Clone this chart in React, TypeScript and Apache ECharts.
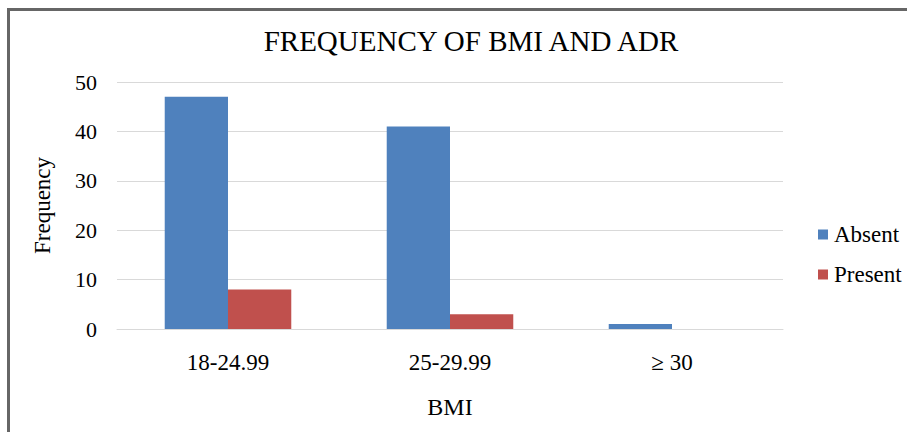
import React, { useEffect, useRef } from "react";
import * as echarts from "echarts";

const categories = ["18-24.99", "25-29.99", "≥ 30"];
const absentValues = [47, 41, 1];
const presentValues = [8, 3, 0];
const seriesNames = ["Absent", "Present"];
const titleText = "FREQUENCY OF BMI AND ADR";
const xAxisName = "BMI";
const yAxisName = "Frequency";

const FONT = "'Liberation Serif', 'Times New Roman', serif";

export default function App() {
  const ref = useRef<HTMLDivElement>(null);
  useEffect(() => {
    if (!ref.current) return;
    const chart = echarts.init(ref.current, undefined, { renderer: "svg" });
    chart.setOption({
      animation: false,
      backgroundColor: "#ffffff",
      textStyle: { fontFamily: FONT, color: "#000" },
      title: {
        text: titleText,
        left: 466,
        textAlign: "center",
        top: 21,
        textStyle: { fontFamily: FONT, fontSize: 29, fontWeight: "normal", color: "#000" },
      },
      legend: {
        orient: "vertical",
        left: 813,
        top: 218,
        itemWidth: 10,
        itemHeight: 10,
        itemGap: 17,
        icon: "rect",
        data: seriesNames,
        textStyle: { fontFamily: FONT, fontSize: 23, color: "#000", padding: [0, 0, 0, 1] },
      },
      grid: { left: 117, right: 124, top: 82, bottom: 103 },
      xAxis: {
        type: "category",
        data: categories,
        name: xAxisName,
        nameLocation: "middle",
        nameGap: 66,
        nameTextStyle: { fontFamily: FONT, fontSize: 24, color: "#000" },
        axisLine: { show: true, lineStyle: { color: "#d9d9d9", width: 1 } },
        axisTick: { show: false },
        axisLabel: { fontFamily: FONT, fontSize: 23, color: "#000", margin: 22 },
      },
      yAxis: {
        type: "value",
        min: 0,
        max: 50,
        interval: 10,
        name: yAxisName,
        nameLocation: "middle",
        nameGap: 63,
        nameRotate: 90,
        nameTextStyle: { fontFamily: FONT, fontSize: 23, color: "#000" },
        axisLine: { show: false },
        axisTick: { show: false },
        axisLabel: { fontFamily: FONT, fontSize: 22, color: "#000", margin: 20 },
        splitLine: { show: true, lineStyle: { color: "#d9d9d9", width: 1 } },
      },
      series: [
        {
          name: seriesNames[0],
          type: "bar",
          data: absentValues,
          barGap: "0%",
          barCategoryGap: "43%",
          itemStyle: { color: "#4f81bd" },
        },
        {
          name: seriesNames[1],
          type: "bar",
          data: presentValues,
          barGap: "0%",
          barCategoryGap: "43%",
          itemStyle: { color: "#c0504d" },
        },
      ],
    });
    return () => chart.dispose();
  }, []);
  return (
    <div style={{ position: "fixed", left: 0, top: 0, width: 907, height: 432, background: "#fff" }}>
      <div ref={ref} style={{ position: "absolute", left: 0, top: 0, width: 907, height: 432 }} />
      <div
        style={{
          position: "absolute",
          left: 7,
          top: 8,
          width: 900,
          height: 424,
          borderTop: "3px solid #666",
          borderLeft: "3px solid #666",
          boxSizing: "border-box",
          pointerEvents: "none",
        }}
      />
    </div>
  );
}
